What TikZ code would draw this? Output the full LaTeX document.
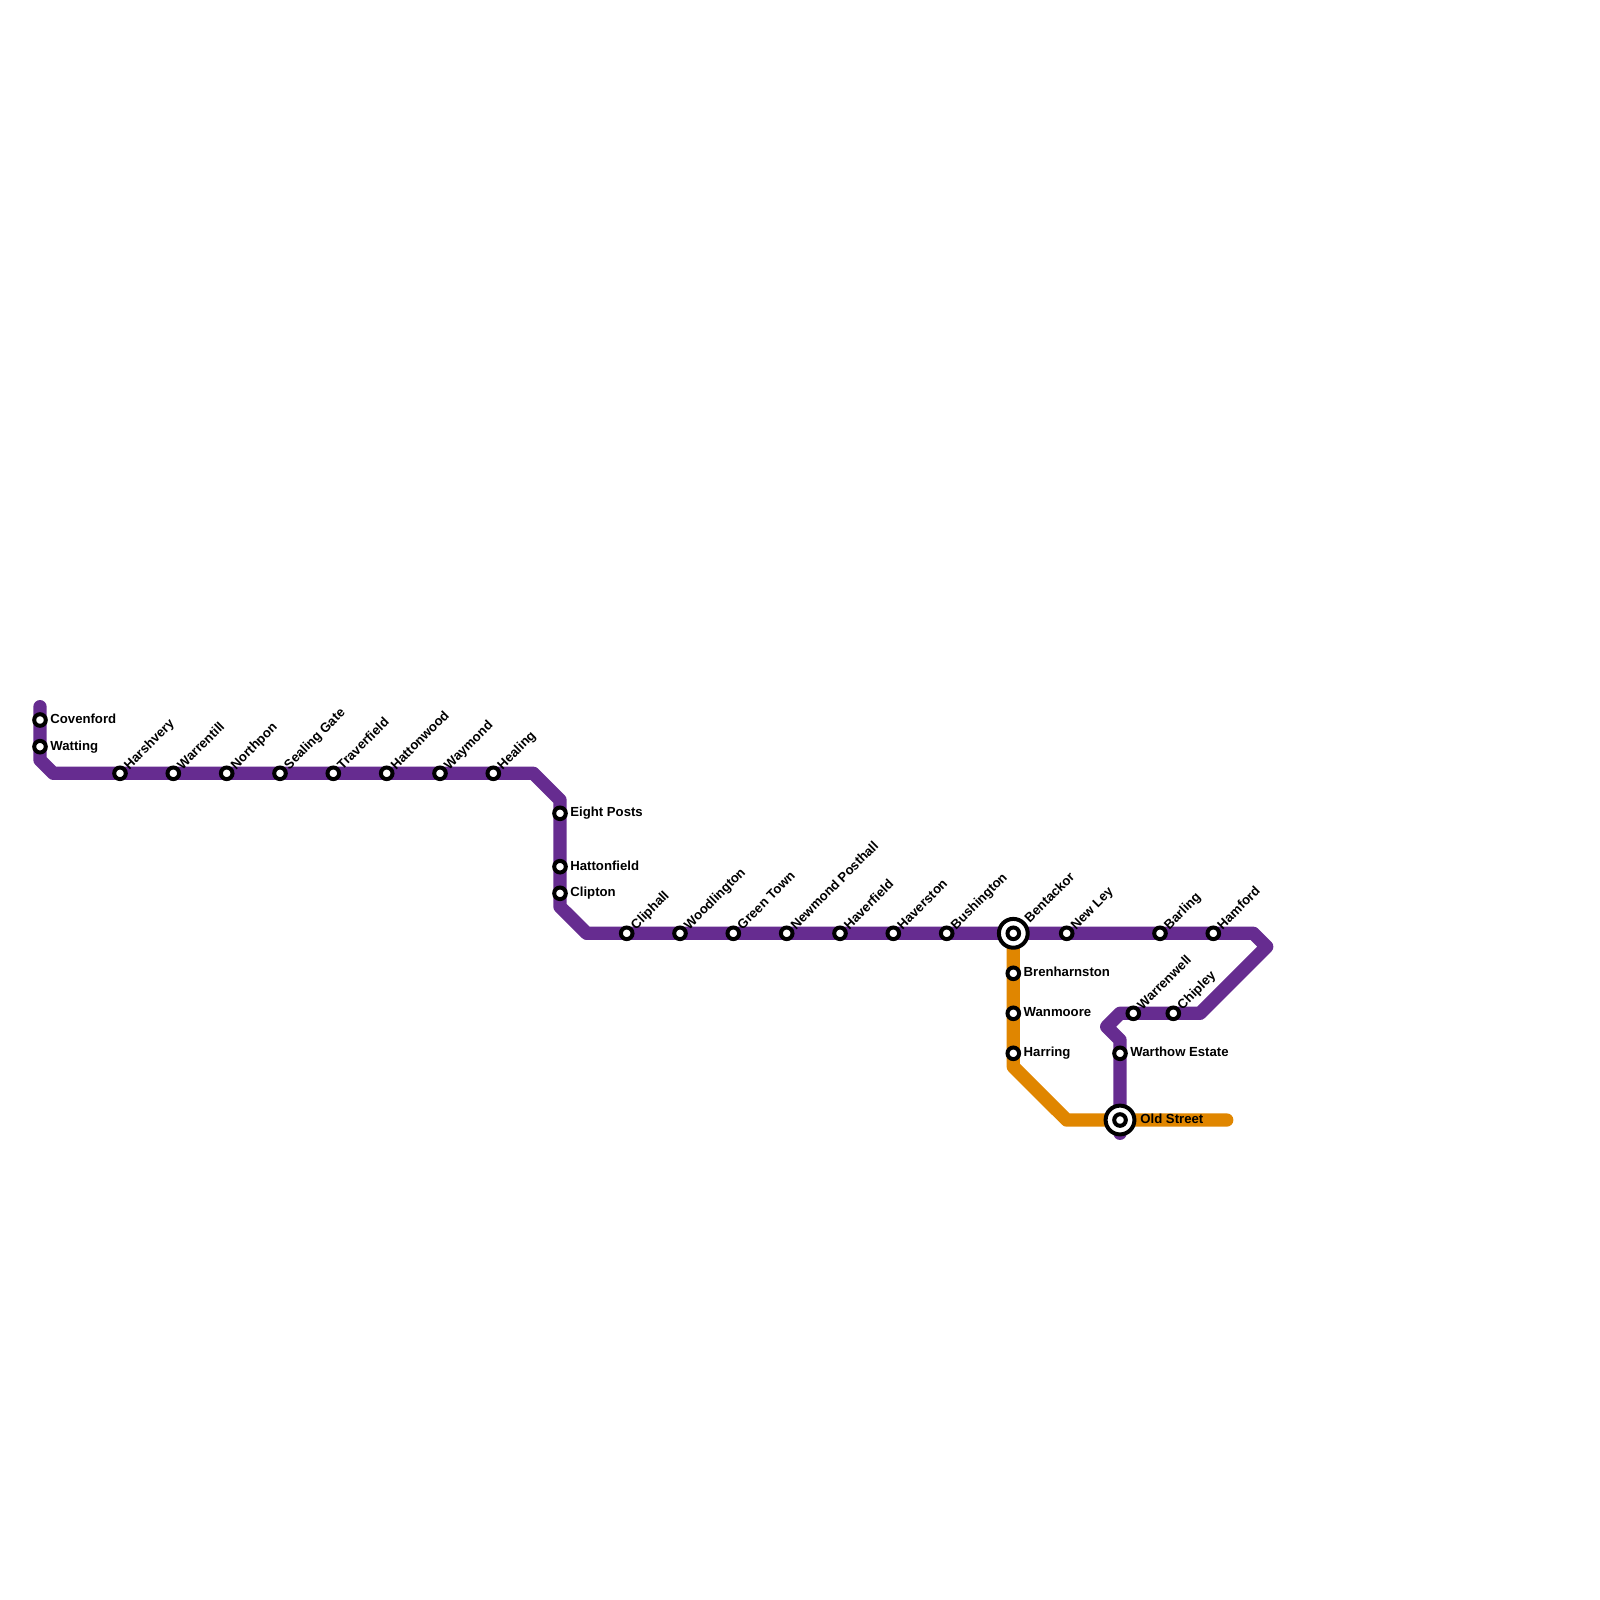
\documentclass[tikz,border=0pt]{standalone}
\usepackage{fontspec}
\setmainfont{Liberation Sans}
\definecolor{lpurple}{HTML}{662C90}
\definecolor{lorange}{HTML}{E08600}
\tikzset{
  x=0.5pt,y=-0.5pt,
  linepath/.style={line width=6.67pt,line cap=round,line join=round},
  stn/.style={circle,draw=black,fill=white,line width=2pt,minimum size=5.8pt,inner sep=0pt},
  hub/.style={circle,draw=black,fill=white,line width=2pt,minimum size=14.4pt,inner sep=0pt},
  lab/.style={font=\bfseries\fontsize{6.58}{7}\selectfont,inner sep=0pt,text=black,text height=5pt,text depth=1.4pt},
  rlab/.style={lab,anchor=west},
  dlab/.style={lab,anchor=west,rotate=45},
}
\newcommand{\stnR}[4]{\node[stn] (#1) at (#2,#3) {}; \node[rlab] (#1L) at (#2+10,#3) {#4};}
\newcommand{\stnD}[4]{\node[stn] (#1) at (#2,#3) {}; \node[dlab] (#1L) at (#2+6.5,#3-5.5) {#4};}
\begin{document}
\begin{tikzpicture}
\useasboundingbox (0,0) rectangle (1600,1600);
% purple route points
\coordinate (p0) at (40,706.7);
\coordinate (p1) at (40,760);
\coordinate (p2) at (53.3,773.3);
\coordinate (p3) at (533.3,773.3);
\coordinate (p4) at (560,800);
\coordinate (p5) at (560,906.7);
\coordinate (p6) at (586.7,933.3);
\coordinate (p7) at (1253.3,933.3);
\coordinate (p8) at (1266.7,946.7);
\coordinate (p9) at (1200,1013.3);
\coordinate (p10) at (1120,1013.3);
\coordinate (p11) at (1106.7,1026.7);
\coordinate (p12) at (1120,1040);
\coordinate (p13) at (1120,1133.3);
% orange route points
\coordinate (o0) at (1013.3,933.3);
\coordinate (o1) at (1013.3,1066.7);
\coordinate (o2) at (1066.7,1120);
\coordinate (o3) at (1226.7,1120);
\draw[linepath,lpurple] (p0)--(p1)--(p2)--(p3)--(p4)--(p5)--(p6)--(p7)--(p8)--(p9)--(p10)--(p11)--(p12)--(p13);
\draw[linepath,lorange] (o0)--(o1)--(o2)--(o3);
% stations
\stnR{covenford}{40}{720}{Covenford}
\stnR{watting}{40}{746.7}{Watting}
\stnD{harshvery}{120}{773.3}{Harshvery}
\stnD{warrentill}{173.3}{773.3}{Warrentill}
\stnD{northpon}{226.7}{773.3}{Northpon}
\stnD{sealing}{280}{773.3}{Sealing Gate}
\stnD{traverfield}{333.3}{773.3}{Traverfield}
\stnD{hattonwood}{386.7}{773.3}{Hattonwood}
\stnD{waymond}{440}{773.3}{Waymond}
\stnD{healing}{493.3}{773.3}{Healing}
\stnR{eightposts}{560}{813.3}{Eight Posts}
\stnR{hattonfield}{560}{866.7}{Hattonfield}
\stnR{clipton}{560}{893.3}{Clipton}
\stnD{cliphall}{626.7}{933.3}{Cliphall}
\stnD{woodlington}{680}{933.3}{Woodlington}
\stnD{greentown}{733.3}{933.3}{Green Town}
\stnD{newmond}{786.7}{933.3}{Newmond Posthall}
\stnD{haverfield}{840}{933.3}{Haverfield}
\stnD{haverston}{893.3}{933.3}{Haverston}
\stnD{bushington}{946.7}{933.3}{Bushington}
\stnD{newley}{1066.7}{933.3}{New Ley}
\stnD{barling}{1160}{933.3}{Barling}
\stnD{hamford}{1213.3}{933.3}{Hamford}
\stnR{brenharnston}{1013.3}{973.3}{Brenharnston}
\stnR{wanmoore}{1013.3}{1013.3}{Wanmoore}
\stnR{harring}{1013.3}{1053.3}{Harring}
\stnD{warrenwell}{1133.3}{1013.3}{Warrenwell}
\stnD{chipley}{1173.3}{1013.3}{Chipley}
\stnR{warthow}{1120}{1053.3}{Warthow Estate}
% interchanges
\node[hub] (bentackor) at (1013.3,933.3) {};
\node[stn] (bentackorI) at (bentackor) {};
\node[dlab] (bentackorL) at (1027,921) {Bentackor};
\node[hub] (oldstreet) at (1120,1120) {};
\node[stn] (oldstreetI) at (oldstreet) {};
\node[rlab] (oldstreetL) at (1140,1119.6) {Old Street};
\end{tikzpicture}
\end{document}
